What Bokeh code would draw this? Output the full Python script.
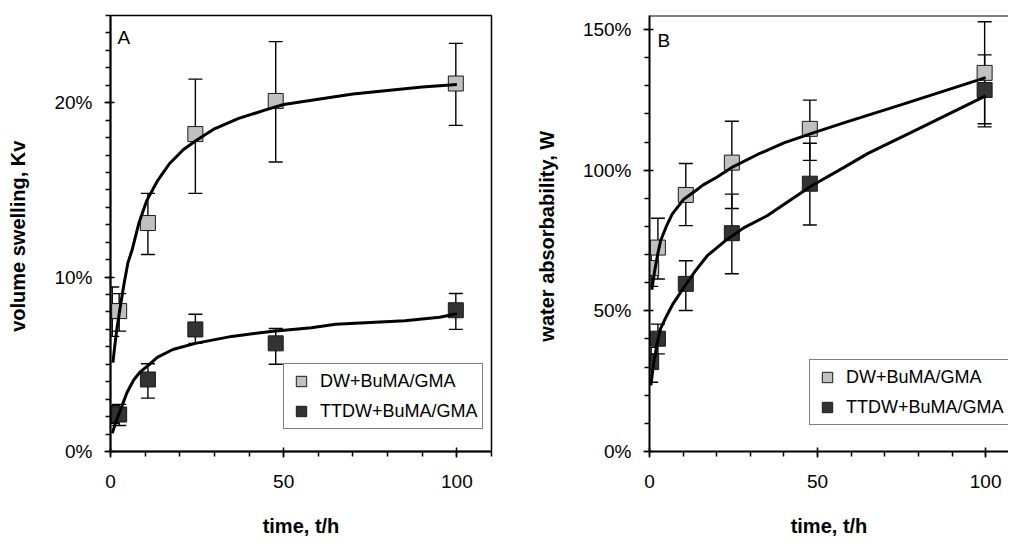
from bokeh.plotting import figure
from bokeh.models import (Range1d, FixedTicker, PrintfTickFormatter, ColumnDataSource,
                          Whisker, TeeHead, Label, Legend, LegendItem, Span)
from bokeh.layouts import row
from bokeh.embed import file_html
from bokeh.resources import INLINE

FONT = "Liberation Sans"
LIGHT = "#c0c0c0"
DARK = "#333333"

# ---------------- data ----------------
t_points = [0.5, 2.5, 10.8, 24.5, 47.7, 99.7]

# Panel A: volume swelling Kv (%)
a_dw = [8.05, 8.05, 13.1, 18.2, 20.1, 21.1]
a_dw_up = [9.43, 9.05, 14.8, 21.35, 23.5, 23.4]
a_dw_lo = [6.6, 6.9, 11.3, 14.8, 16.6, 18.7]
a_tt = [2.12, 2.12, 4.13, 7.0, 6.2, 8.1]
a_tt_up = [2.62, 2.7, 5.03, 7.87, 7.05, 9.06]
a_tt_lo = [1.62, 1.49, 3.06, 6.2, 5.0, 7.0]

a_dw_curve_t = [0.7, 1.2, 1.9, 2.9, 3.9, 5, 6.3, 8.2, 10.5, 13.5, 17, 21, 24.5, 30, 37, 45, 50, 60, 70, 80, 90, 100]
a_dw_curve_y = [5.1, 6.0, 7.1, 8.4, 9.6, 10.8, 11.6, 13.1, 14.4, 15.5, 16.5, 17.3, 17.8, 18.5, 19.1, 19.6, 19.9, 20.2, 20.5, 20.7, 20.9, 21.05]
a_tt_curve_t = [0.5, 1.4, 2.9, 4.8, 6.7, 8.5, 11, 13.5, 18, 24.5, 35, 47, 58, 65, 75, 85, 95, 100]
a_tt_curve_y = [1.05, 1.6, 2.4, 3.4, 4.1, 4.55, 4.95, 5.4, 5.85, 6.2, 6.6, 6.9, 7.1, 7.3, 7.4, 7.5, 7.7, 7.9]

# Panel B: water absorbability W (%)
b_dw = [65.2, 72.5, 91.2, 102.7, 114.7, 134.6]
b_dw_up = [71.7, 82.9, 102.4, 117.4, 124.9, 152.8]
b_dw_lo = [58.7, 61.3, 80.3, 86.4, 103.5, 116.5]
b_tt = [31.8, 40.1, 59.6, 77.6, 95.2, 128.5]
b_tt_up = [37.0, 45.3, 67.8, 91.5, 109.6, 141.0]
b_tt_lo = [24.6, 34.7, 50.1, 63.2, 80.5, 115.4]

b_dw_curve_t = [0.7, 1.5, 2.5, 3.3, 5, 6.75, 10.2, 13.7, 16, 20, 24.5, 32, 40, 48, 58, 75, 100]
b_dw_curve_y = [57.5, 64, 70.5, 74.9, 80, 84.4, 89.7, 92.7, 94.8, 97.5, 101.0, 105.5, 109.7, 113, 116.9, 123.3, 132.9]
b_tt_curve_t = [0.4, 1.2, 2.2, 3.3, 5, 7, 10.2, 13.7, 17.2, 22.6, 24.5, 28, 35, 48, 58, 65, 80, 100]
b_tt_curve_y = [23.5, 31, 38, 43.7, 48, 52.5, 58.3, 64.3, 69.6, 75.0, 76.5, 79.5, 83.8, 94.3, 101.1, 106, 114.7, 126.4]

series_names = ["DW+BuMA/GMA", "TTDW+BuMA/GMA"]
x_major = [0, 50, 100]
x_minor = list(range(0, 111, 10))
a_y_major = [0, 10, 20]
a_y_minor = list(range(0, 26, 1))
b_y_major = [0, 50, 100, 150]
b_y_minor = list(range(0, 151, 10))


def style_axes(p, y_major, y_minor, ylabel):
    p.xaxis.ticker = FixedTicker(ticks=x_major, minor_ticks=x_minor)
    p.yaxis.ticker = FixedTicker(ticks=y_major, minor_ticks=y_minor)
    p.yaxis.formatter = PrintfTickFormatter(format="%d%%")
    for ax in (p.xaxis, p.yaxis):
        ax.axis_line_color = "black"
        ax.axis_line_width = 2
        ax.major_tick_line_color = "black"
        ax.major_tick_line_width = 1.5
        ax.minor_tick_line_color = "black"
        ax.minor_tick_line_width = 1.5
        ax.major_tick_in = 4
        ax.major_tick_out = 6
        ax.minor_tick_in = 0
        ax.minor_tick_out = 5
        ax.major_label_text_font = FONT
        ax.major_label_text_font_size = "19px"
        ax.major_label_text_color = "black"
        ax.axis_label_text_font = FONT
        ax.axis_label_text_font_style = "bold"
        ax.axis_label_text_font_size = "20px"
        ax.axis_label_text_color = "black"
    p.yaxis.major_label_standoff = 12
    p.xaxis.major_label_standoff = 17
    p.xaxis.axis_label = "time, t/h"
    p.xaxis.axis_label_standoff = 24
    p.yaxis.axis_label = ylabel
    p.yaxis.axis_label_standoff = 22
    p.xgrid.visible = False
    p.ygrid.visible = False


def add_series(p, t, y, up, lo, ct, cy, color):
    src = ColumnDataSource(dict(t=t, y=y, up=up, lo=lo))
    w = Whisker(source=src, base="t", upper="up", lower="lo", line_width=1.4, line_color="black",
                upper_head=TeeHead(size=14, line_width=1.4, line_color="black"),
                lower_head=TeeHead(size=14, line_width=1.4, line_color="black"))
    p.add_layout(w)
    r = p.scatter("t", "y", source=src, marker="square", size=15, fill_color=color,
                  line_color="#1a1a1a", line_width=1)
    p.line(ct, cy, line_color="black", line_width=3)
    return r


def make_legend(p, r1, r2, loc):
    lg = Legend(items=[LegendItem(label=series_names[0], renderers=[r1]),
                       LegendItem(label=series_names[1], renderers=[r2])],
                location=loc, padding=4, spacing=4, margin=0,
                label_height=26, glyph_height=26, glyph_width=26, label_standoff=6,
                label_text_font=FONT, label_text_font_size="18px", label_text_color="black",
                border_line_color="black", border_line_width=1.5,
                background_fill_color="white", background_fill_alpha=1)
    p.add_layout(lg)


# ---------------- Panel A ----------------
pA = figure(width=505, height=544, output_backend="svg", toolbar_location=None,
            x_range=Range1d(0, 110), y_range=Range1d(0, 25),
            min_border_left=110, min_border_right=14, min_border_top=15, min_border_bottom=93,
            background_fill_color="white", border_fill_color="white")
pA.outline_line_color = "black"
pA.outline_line_width = 1.5
style_axes(pA, a_y_major, a_y_minor, "volume swelling,  Kv")
rA1 = add_series(pA, t_points, a_dw, a_dw_up, a_dw_lo, a_dw_curve_t, a_dw_curve_y, LIGHT)
rA2 = add_series(pA, t_points, a_tt, a_tt_up, a_tt_lo, a_tt_curve_t, a_tt_curve_y, DARK)
make_legend(pA, rA1, rA2, (173, 22))
pA.add_layout(Label(x=7, y=414, x_units="screen", y_units="screen", text="A",
                    text_font=FONT, text_font_size="19px", text_color="black",
                    text_baseline="alphabetic", text_align="left"))

# ---------------- Panel B ----------------
pB = figure(width=503, height=544, output_backend="svg", toolbar_location=None,
            x_range=Range1d(0, 106.8), y_range=Range1d(0, 155),
            min_border_left=144, min_border_right=0, min_border_top=15, min_border_bottom=93,
            background_fill_color="white", border_fill_color="white")
pB.outline_line_color = None
style_axes(pB, b_y_major, b_y_minor, "water absorbability,  W")
pB.add_layout(Span(location=155, dimension="width", line_color="black", line_width=2))
rB1 = add_series(pB, t_points, b_dw, b_dw_up, b_dw_lo, b_dw_curve_t, b_dw_curve_y, LIGHT)
rB2 = add_series(pB, t_points, b_tt, b_tt_up, b_tt_lo, b_tt_curve_t, b_tt_curve_y, DARK)
make_legend(pB, rB1, rB2, (160, 26))
pB.add_layout(Label(x=8, y=411, x_units="screen", y_units="screen", text="B",
                    text_font=FONT, text_font_size="19px", text_color="black",
                    text_baseline="alphabetic", text_align="left"))

layout = row(pA, pB)
open("out.html", "w").write(file_html(layout, INLINE))
